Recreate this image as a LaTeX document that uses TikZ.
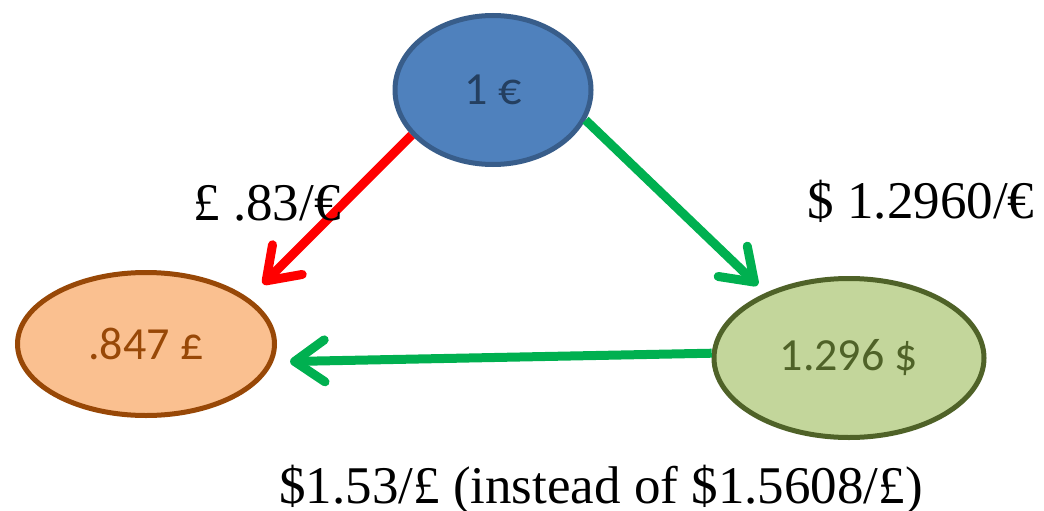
\documentclass[tikz,border=0pt]{standalone}
\usepackage{fontspec}
\setmainfont{Liberation Serif}
\newfontfamily\calib{Carlito}
\usetikzlibrary{arrows.meta, shapes.geometric}
\definecolor{eurofill}{HTML}{4F81BD}
\definecolor{euroline}{HTML}{385D8A}
\definecolor{eurotext}{HTML}{243F60}
\definecolor{gbpfill}{HTML}{FAC090}
\definecolor{gbpline}{HTML}{984807}
\definecolor{usdfill}{HTML}{C3D69B}
\definecolor{usdline}{HTML}{4F6228}
\definecolor{loss}{HTML}{FF0000}
\definecolor{gain}{HTML}{00B050}
\tikzstyle{cur}=[ellipse, line width=5pt, inner sep=0pt,
                 font=\calib\fontsize{46}{54}\selectfont]
\tikzstyle{rate}=[anchor=base, inner sep=0pt, font=\fontsize{53}{60}\selectfont]
\tikzstyle{ar}=[line width=9pt, -{Straight Barb[length=30pt, width=42pt, round]}]

\begin{document}
\begin{tikzpicture}[x=1pt, y=-1pt]
    \useasboundingbox (0,0) rectangle (1044,511);
    % currencies
    \node[cur, draw=euroline, fill=eurofill, text=eurotext,
          minimum width=196pt, minimum height=149pt] (eur) at (493,90) {1 €};
    \node[cur, draw=gbpline, fill=gbpfill, text=gbpline,
          minimum width=257pt, minimum height=143pt] (gbp) at (146,344) {.847 £};
    \node[cur, draw=usdline, fill=usdfill, text=usdline,
          minimum width=270pt, minimum height=159pt] (usd) at (849,358) {1.296 \$};
    % exchanges
    \draw[ar, loss, shorten >=20pt] (eur.209) -- (gbp.24);
    \draw[ar, gain, shorten >=11pt] (eur.342) -- (usd.142);
    \draw[ar, gain, shorten >=17pt] (usd.178) -- (gbp.352);
    % rates
    \node[rate] (eurgbp) at (267,220) {£ .83/€};
    \node[rate] (eurusd) at (921,218) {\$ 1.2960/€};
    \node[rate] (usdgbp) at (601,503) {\$1.53/£ (instead of \$1.5608/£)};
\end{tikzpicture}
\end{document}
